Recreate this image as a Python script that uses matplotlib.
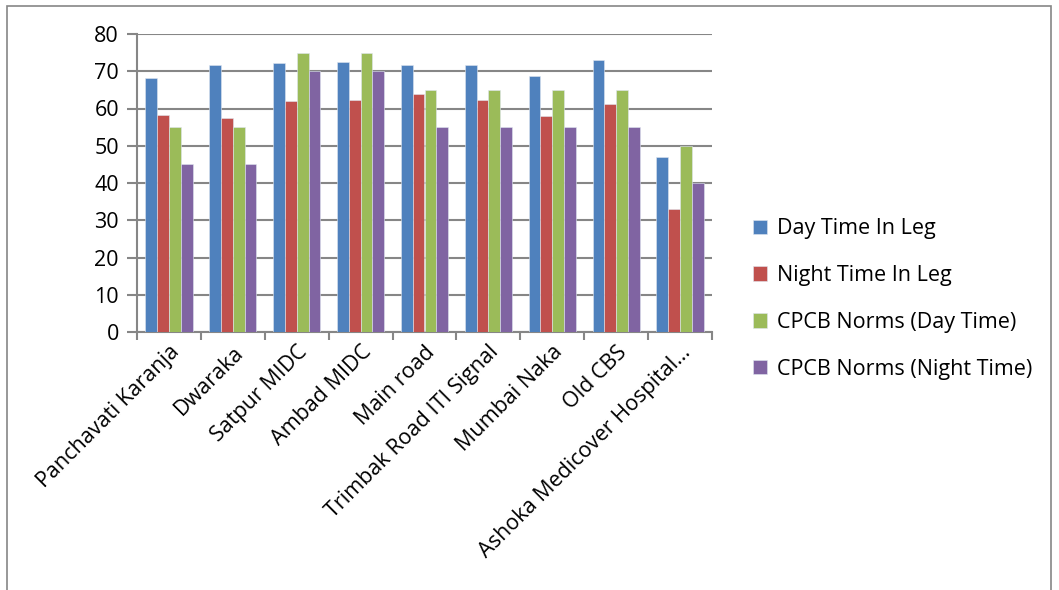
import matplotlib
matplotlib.use("Agg")
import matplotlib.pyplot as plt
import numpy as np
from matplotlib.patches import Rectangle

categories = ["Panchavati Karanja", "Dwaraka", "Satpur MIDC", "Ambad MIDC", "Main road",
              "Trimbak Road ITI Signal", "Mumbai Naka", "Old CBS", "Ashoka Medicover Hospital\u2026"]
day_leq = [68.2, 71.6, 72.3, 72.6, 71.7, 71.6, 68.6, 73.1, 46.9]
night_leq = [58.2, 57.5, 62.1, 62.3, 63.8, 62.2, 57.9, 61.1, 33.0]
cpcb_day = [55, 55, 75, 75, 65, 65, 65, 65, 50]
cpcb_night = [45, 45, 70, 70, 55, 55, 55, 55, 40]
series_names = ["Day Time In Leg", "Night Time In Leg", "CPCB Norms (Day Time)", "CPCB Norms (Night Time)"]
colors = ["#4F81BD", "#C0504D", "#9BBB59", "#8064A2"]
yticks = [0, 10, 20, 30, 40, 50, 60, 70, 80]

plt.rcParams['font.family'] = ['Open Sans', 'DejaVu Sans']

fig = plt.figure(figsize=(10.59, 5.90), dpi=100)
ax = fig.add_axes([137/1059, 1-332/590, (712-137)/1059, (332-34)/590])

x = np.arange(len(categories))
w = 0.185
data = [day_leq, night_leq, cpcb_day, cpcb_night]
handles = []
for i, (vals, c, name) in enumerate(zip(data, colors, series_names)):
    b = ax.bar(x + (i - 1.5) * w, vals, w, color=c, label=name, zorder=3,
               edgecolor='#dfe6f0', linewidth=0.4)
    handles.append(b)

ax.set_xlim(-0.5, len(categories) - 0.5)
ax.set_ylim(0, 80)
ax.set_yticks(yticks)
ax.set_yticklabels([str(v) for v in yticks], fontsize=15.5)
ax.yaxis.grid(True, color='#868686', linewidth=1.5, zorder=0)
ax.set_axisbelow(True)
for s in ['top', 'right']:
    ax.spines[s].set_visible(False)
ax.spines['left'].set_color('#868686')
ax.spines['left'].set_linewidth(1.5)
ax.spines['bottom'].set_color('#868686')
ax.spines['bottom'].set_linewidth(1.5)
ax.tick_params(axis='y', length=7, color='#868686', width=1.5, pad=6)

ax.set_xticks(x)
ax.set_xticklabels(categories, rotation=45, ha='right', rotation_mode='anchor', fontsize=15.5)
ax.tick_params(axis='x', length=0, pad=7)
ax.set_xticks(np.arange(-0.5, len(categories)), minor=True)
ax.tick_params(axis='x', which='minor', length=6, color='#868686', width=1.5)

leg = fig.legend(handles=handles, labels=series_names, loc='upper left',
                 bbox_to_anchor=(734/1059, 1-199/590), frameon=False, fontsize=15.5,
                 handlelength=0.65, handleheight=0.65, handletextpad=0.45, labelspacing=1.2)

fig.patches.append(Rectangle((7/1059, -0.01), (1051-7)/1059, 1-6/590+0.01, transform=fig.transFigure,
                             fill=False, edgecolor='#868686', linewidth=1.2))

fig.savefig("out.png", dpi=100)
